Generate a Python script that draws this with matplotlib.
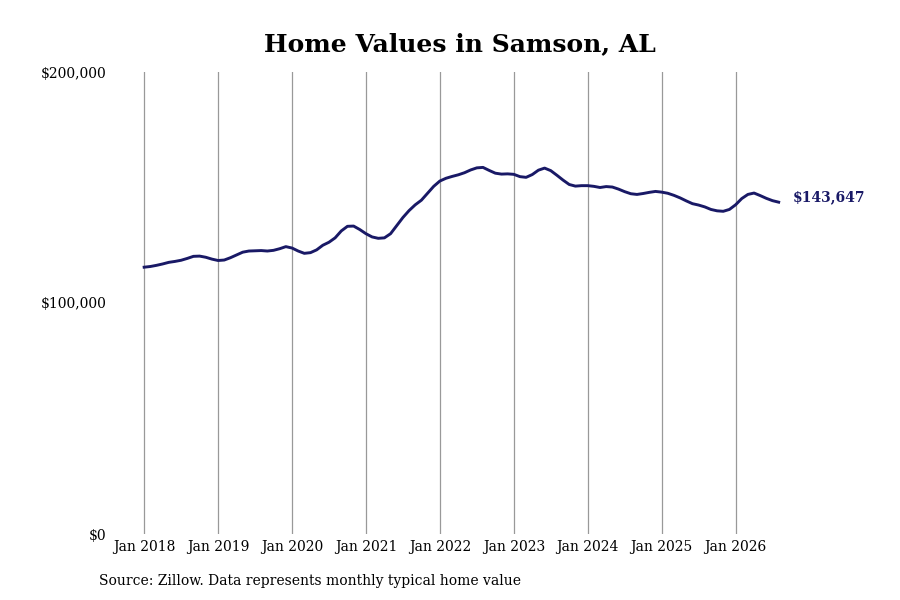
import numpy as np
import matplotlib
matplotlib.use('Agg')
import matplotlib.pyplot as plt

# valores mensuales (miles de $), ene 2018 a ago 2026
v2018 = [115.5, 115.8, 116.3, 116.9, 117.6, 118.0, 118.5, 119.3, 120.2, 120.3, 119.8, 119.0]
v2019 = [118.4, 118.6, 119.6, 120.8, 122.0, 122.5, 122.6, 122.7, 122.5, 122.8, 123.5, 124.4]
v2020 = [123.8, 122.5, 121.5, 121.8, 123.0, 125.0, 126.3, 128.2, 131.2, 133.2, 133.3, 131.8]
v2021 = [130.0, 128.6, 128.0, 128.2, 130.0, 133.5, 137.0, 140.0, 142.5, 144.5, 147.5, 150.5]
v2022 = [152.8, 154.0, 154.8, 155.5, 156.4, 157.6, 158.5, 158.7, 157.4, 156.2, 155.8, 155.9]
v2023 = [155.7, 154.7, 154.4, 155.6, 157.5, 158.4, 157.3, 155.3, 153.2, 151.3, 150.6, 150.8]
v2024 = [150.8, 150.5, 150.0, 150.4, 150.2, 149.3, 148.2, 147.3, 147.0, 147.4, 147.9, 148.3]
v2025 = [148.0, 147.5, 146.6, 145.5, 144.2, 143.0, 142.4, 141.6, 140.5, 139.9, 139.7, 140.5]
v2026 = [142.5, 145.2, 147.0, 147.6, 146.5, 145.3, 144.3, 143.647]
last_value = 143647

values = np.array(v2018 + v2019 + v2020 + v2021 + v2022 + v2023 + v2024 + v2025 + v2026) * 1000
values[-1] = last_value
months = np.arange(len(values))

tick_pos = np.arange(0, 97, 12)
tick_labels = ["Jan %d" % y for y in range(2018, 2027)]

plt.rcParams['font.family'] = 'DejaVu Serif'
fig = plt.figure(figsize=(9, 6), dpi=100)
ax = fig.add_axes([0.128, 0.11, 0.742, 0.77])

ax.plot(months, values, color='#191966', linewidth=2.1)
ax.set_xlim(-4.7, 103.7)
ax.set_ylim(0, 200000)
ax.set_xticks(tick_pos)
ax.set_xticklabels(tick_labels, fontsize=10)
ax.set_yticks([0, 100000, 200000])
ax.set_yticklabels(["$0", "$100,000", "$200,000"], fontsize=10)
ax.tick_params(axis='x', length=0, pad=4)
ax.tick_params(axis='y', length=0, pad=6)
ax.grid(axis='x', color='#999999', linewidth=0.9)
for s in ax.spines.values():
    s.set_visible(False)

ax.annotate("${:,}".format(last_value), (months[-1], values[-1]),
            xytext=(10, 3.6), textcoords='offset points', va='center',
            fontsize=10, fontweight='bold', color='#191966',
            annotation_clip=False)

fig.text(0.511, 0.927, "Home Values in Samson, AL", ha='center', va='center',
         fontsize=18, fontweight='bold')
fig.text(0.11, 0.032, "Source: Zillow. Data represents monthly typical home value",
         ha='left', va='center', fontsize=10)

fig.savefig('out.png')
